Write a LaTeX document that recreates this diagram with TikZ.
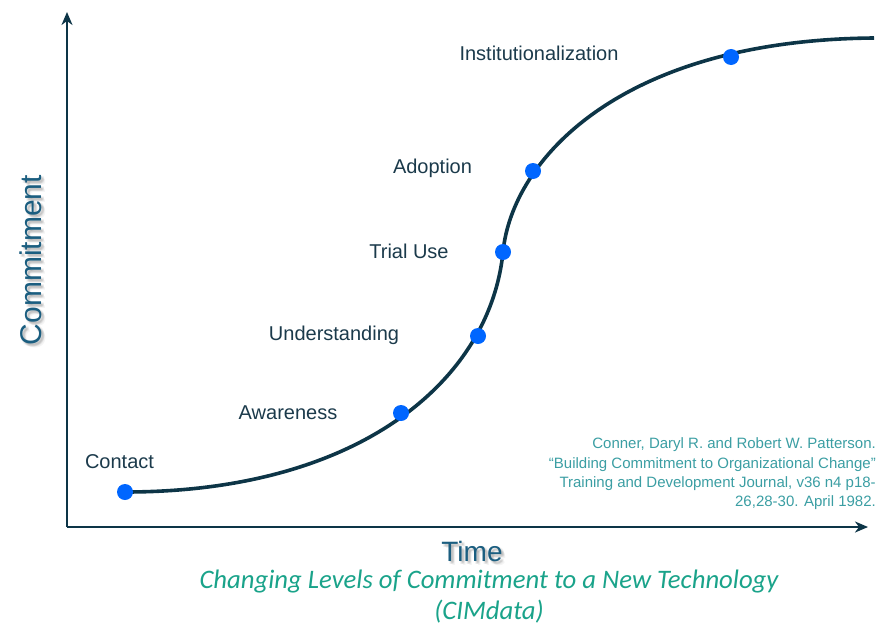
\documentclass[tikz,border=0pt]{standalone}
\usepackage{fontspec}
\setmainfont{Liberation Sans}
\newfontfamily\capfont{Carlito}
\usetikzlibrary{arrows.meta}
\definecolor{axisnavy}{HTML}{0D3547}
\definecolor{labelnavy}{HTML}{1B3A4B}
\definecolor{titleblue}{HTML}{1B5E80}
\definecolor{dotblue}{HTML}{0066FF}
\definecolor{citeteal}{HTML}{3B9EA3}
\definecolor{capteal}{HTML}{1AA38A}
\tikzset{
  axisline/.style={draw=axisnavy, line width=2.2pt, -{Stealth[length=13pt,width=11pt,inset=4pt]}},
  scurve/.style={draw=axisnavy, line width=3.6pt},
  stagedot/.style={circle, fill=dotblue, minimum size=16pt, inner sep=0pt},
  stagelabel/.style={text=labelnavy, font=\fontsize{20}{24}\selectfont, inner sep=0pt},
  axistitle/.style={text=titleblue, font=\fontsize{#1}{#1}\selectfont, inner sep=0pt},
  axisshadow/.style={text=black, opacity=0.045, font=\fontsize{#1}{#1}\selectfont, inner sep=0pt},
  citation/.style={text=citeteal, font=\fontsize{15}{19.3}\selectfont, align=right, inner sep=0pt},
  caption/.style={text=capteal, font=\capfont\itshape\fontsize{26.7}{30}\selectfont, inner sep=0pt}
}
\begin{document}
\begin{tikzpicture}[x=1pt, y=-1pt]
\useasboundingbox (0,0) rectangle (882,626);

% axes
\coordinate (origin) at (67,527);
\coordinate (ytip) at (67,12);
\coordinate (xtip) at (868,527);
\draw[axisline] (origin) -- (ytip);
\draw[axisline] (origin) -- (xtip);

% points on the adoption curve
\coordinate (contact) at (125,492);
\coordinate (trial) at (503,252);
\coordinate (curveend) at (874,38);

\draw[scurve] (contact) .. controls (360,492) and (490,380) .. (trial)
  .. controls (512,160) and (620,40) .. (curveend);

% stage markers
\node[stagedot] (dcontact) at (contact) {};
\node[stagedot] (dawareness) at (401,413) {};
\node[stagedot] (dunderstanding) at (478,336) {};
\node[stagedot] (dtrial) at (trial) {};
\node[stagedot] (dadoption) at (533,171) {};
\node[stagedot] (dinst) at (731,57) {};

% stage labels
\node[stagelabel] (lcontact) at (119.5,462) {Contact};
\node[stagelabel] (lawareness) at (288,413) {Awareness};
\node[stagelabel] (lunderstanding) at (334,335) {Understanding};
\node[stagelabel] (ltrial) at (409,251) {Trial Use};
\node[stagelabel] (ladoption) at (432.5,168) {Adoption};
\node[stagelabel] (linst) at (539,53) {Institutionalization};

% axis titles with a soft blurred shadow
\foreach \dx/\dy in {1/1,2/2,3/3,2/3,3/2,1/3,3/1,4/4} {
  \node[axisshadow=30, rotate=90] at (31+\dx,260+\dy) {Commitment};
  \node[axisshadow=28] at (472+\dx,551+\dy) {Time};
}
\node[axistitle=30, rotate=90] (ytitle) at (31,260) {Commitment};
\node[axistitle=28] (xtitle) at (472,551) {Time};

% reference
\node[citation, anchor=east] (cite) at (876,474) {Conner, Daryl R. and Robert W. Patterson.\\
“Building Commitment to Organizational Change”\\
Training and Development Journal, v36 n4 p18-\\
26,28-30. April 1982.};

% caption
\node[caption] (cap1) at (489,582) {Changing Levels of Commitment to a New Technology};
\node[caption] (cap2) at (489,612) {(CIMdata)};
\end{tikzpicture}
\end{document}
